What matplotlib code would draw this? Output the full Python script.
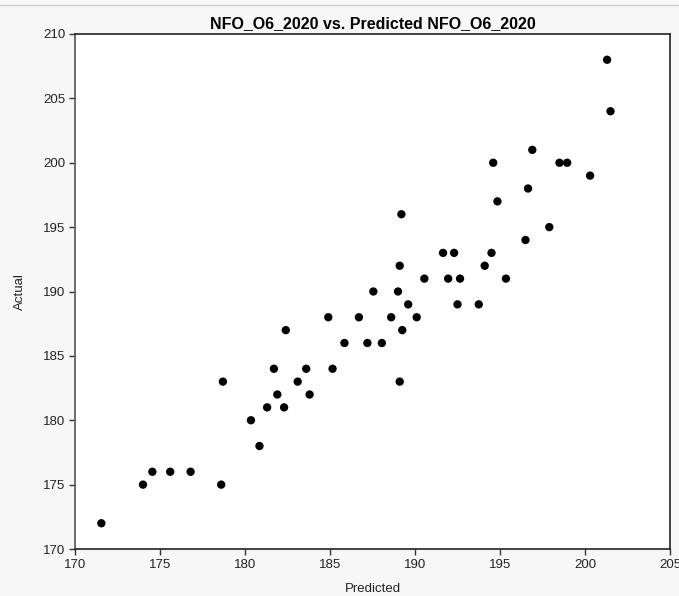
import numpy as np
import matplotlib.pyplot as plt

plt.rcParams['font.family'] = ['Liberation Sans', 'DejaVu Sans']

# predicted vs actual values
predicted = np.array([
    171.55, 174.0, 174.55, 175.6, 176.8, 178.6, 178.7, 180.35, 180.85, 181.3,
    181.7, 181.9, 182.3, 182.4, 183.1, 183.6, 183.8, 184.9, 185.15, 185.85,
    186.7, 187.2, 187.55, 188.05, 188.6, 189.0, 189.1, 189.1, 189.2, 189.25,
    189.6, 190.1, 190.55, 191.65, 191.95, 192.3, 192.5, 192.65, 193.75, 194.1,
    194.5, 194.6, 194.85, 195.35, 196.5, 196.65, 196.9, 197.9, 198.5, 198.95,
    200.3, 201.3, 201.5,
])
actual = np.array([
    172, 175, 176, 176, 176, 175, 183, 180, 178, 181,
    184, 182, 181, 187, 183, 184, 182, 188, 184, 186,
    188, 186, 190, 186, 188, 190, 192, 183, 196, 187,
    189, 188, 191, 193, 191, 193, 189, 191, 189, 192,
    193, 200, 197, 191, 194, 198, 201, 195, 200, 200,
    199, 208, 204,
])

x_ticks = np.arange(170, 206, 5)
y_ticks = np.arange(170, 211, 5)

fig = plt.figure(figsize=(6.79, 5.96), dpi=100, facecolor='#f7f7f7')
ax = fig.add_axes([75 / 679, 1 - 549 / 596, 595 / 679, 515 / 596])
ax.set_facecolor('white')

ax.scatter(predicted, actual, s=36, color='black', edgecolors='none', zorder=3)

ax.set_xlim(170, 205)
ax.set_ylim(170, 210)
ax.set_xticks(x_ticks)
ax.set_yticks(y_ticks)
ax.tick_params(direction='out', length=4, width=1, color='#333333',
               labelsize=9.5, labelcolor='#222222', pad=3)
for s in ax.spines.values():
    s.set_color('#222222')
    s.set_linewidth(1.2)
ax.spines['left'].set_color('#555555')

ax.set_title('NFO_O6_2020 vs. Predicted NFO_O6_2020', fontsize=11.5,
             fontweight='bold', pad=4)
ax.set_xlabel('Predicted', fontsize=9.5, color='#222222', labelpad=9)
ax.set_ylabel('Actual', fontsize=9.5, color='#222222', labelpad=12)

# thin border line at the top of the window
fig.add_artist(plt.Line2D([0, 1], [1 - 5 / 596, 1 - 5 / 596],
                          color='#d0d0d0', linewidth=1))

fig.savefig('out.png', dpi=100, facecolor=fig.get_facecolor())
